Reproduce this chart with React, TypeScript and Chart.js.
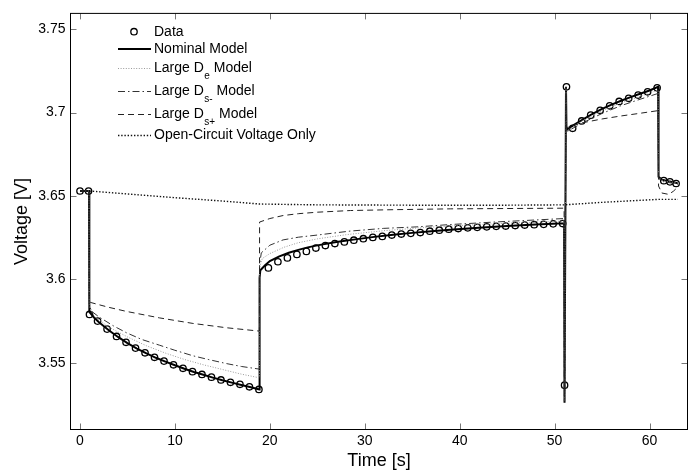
import React, { useEffect, useRef } from "react";
import { Chart, registerables } from "chart.js";

Chart.register(...registerables);

// ---------- axis ticks ----------
const xTicks = [0, 10, 20, 30, 40, 50, 60];
const yTicks = [3.55, 3.6, 3.65, 3.7, 3.75];
const yTickLabels = ["3.55", "3.6", "3.65", "3.7", "3.75"];

// ---------- measured data (circles) ----------
const dataT = [
  0, 0.9, 1.0, 1.85, 2.85, 3.85, 4.85, 5.85, 6.85, 7.85, 8.85, 9.85, 10.85, 11.85, 12.85, 13.85, 14.85,
  15.85, 16.85, 17.85, 18.85, 19.85, 20.85, 21.85, 22.85, 23.85, 24.85, 25.85, 26.85, 27.85, 28.85,
  29.85, 30.85, 31.85, 32.85, 33.85, 34.85, 35.85, 36.85, 37.85, 38.85, 39.85, 40.85, 41.85, 42.85,
  43.85, 44.85, 45.85, 46.85, 47.85, 48.85, 49.85, 50.85, 51.05, 51.25, 51.9, 52.85, 53.8, 54.8, 55.8,
  56.8, 57.8, 58.8, 59.8, 60.8, 61.5, 62.15, 62.8,
];
const dataV = [
  3.653, 3.653, 3.579, 3.575, 3.5702, 3.5658, 3.5623, 3.5588, 3.556, 3.5533, 3.551, 3.5488, 3.5467,
  3.5447, 3.543, 3.5414, 3.5397, 3.5383, 3.5371, 3.5356, 3.534, 3.6069, 3.6106, 3.6129, 3.615, 3.6168,
  3.6188, 3.6203, 3.6215, 3.6225, 3.6235, 3.6244, 3.6252, 3.6258, 3.6266, 3.6272, 3.6276, 3.6281,
  3.6289, 3.6295, 3.6301, 3.6305, 3.6309, 3.6312, 3.6315, 3.6318, 3.632, 3.6323, 3.6326, 3.6328,
  3.633, 3.6333, 3.6335, 3.5366, 3.7155, 3.6906, 3.695, 3.6985, 3.7014, 3.7041, 3.7067, 3.7086,
  3.7105, 3.7125, 3.7149, 3.6592, 3.6585, 3.6575,
];

// ---------- nominal model ----------
const nomT = [
  0, 0.95, 0.97, 1.0, 1.5, 2, 3, 4, 5, 6, 7, 8, 9, 10, 11, 12, 13, 14, 15, 16, 17, 18, 18.9, 18.92, 19.0,
  19.5, 20, 21, 22, 23, 24, 25, 27, 29, 31, 33, 35, 37, 39, 42, 45, 48, 51.0, 51.03, 51.06, 51.2, 51.25,
  52, 53, 54, 55, 56, 57, 58, 59, 60, 60.9, 60.95, 61.3, 62, 63,
];
const nomV = [
  3.653, 3.653, 3.5835, 3.5805, 3.577, 3.5743, 3.5697, 3.5655, 3.5618, 3.5585, 3.5556, 3.553, 3.5507,
  3.5485, 3.5464, 3.5445, 3.5428, 3.5411, 3.5395, 3.5381, 3.5367, 3.5353, 3.534, 3.601, 3.6055, 3.6085,
  3.611, 3.6138, 3.616, 3.6177, 3.6192, 3.6204, 3.6224, 3.624, 3.6255, 3.6268, 3.6279, 3.6289, 3.6298,
  3.631, 3.632, 3.6329, 3.6337, 3.526, 3.526, 3.7155, 3.6895, 3.6925, 3.696, 3.6993, 3.7022, 3.7048,
  3.7071, 3.7093, 3.7113, 3.7133, 3.7155, 3.6615, 3.6598, 3.6588, 3.6577,
];

// ---------- large D_e model ----------
const deT = [
  0, 0.95, 0.97, 1.5, 3, 5, 7, 9, 11, 13, 15, 17, 18.9, 18.92, 19.2, 20, 21.5, 23, 25, 28, 32, 36, 40, 45,
  51, 51.03, 51.06, 51.2, 51.25, 53, 55, 57, 59, 60.9, 60.95, 61.5, 63,
];
const deV = [
  3.653, 3.653, 3.584, 3.578, 3.5715, 3.5655, 3.5602, 3.5558, 3.552, 3.5488, 3.546, 3.5432, 3.541,
  3.607, 3.6125, 3.6155, 3.6193, 3.622, 3.6243, 3.6268, 3.6292, 3.631, 3.6323, 3.6337, 3.635, 3.527,
  3.527, 3.715, 3.689, 3.6955, 3.7012, 3.7058, 3.7098, 3.7135, 3.661, 3.659, 3.6578,
];

// ---------- large D_s- model ----------
const dsmT = [
  0, 0.95, 0.97, 1.2, 2, 3.5, 4.9, 6.5, 8.4, 10, 11.9, 13.5, 15.45, 17, 18.9, 18.92, 19.1, 20, 21.4, 23, 25,
  28.5, 32, 35.5, 39, 44, 51, 51.03, 51.06, 51.2, 51.25, 53, 55, 57, 59, 60.9, 60.95, 61.5, 63,
];
const dsmV = [
  3.653, 3.653, 3.585, 3.581, 3.5775, 3.5722, 3.568, 3.564, 3.5605, 3.5575, 3.5542, 3.552, 3.5495,
  3.5478, 3.5462, 3.609, 3.6159, 3.6205, 3.6237, 3.6253, 3.6266, 3.629, 3.6306, 3.6315, 3.6329, 3.6345,
  3.6365, 3.527, 3.527, 3.714, 3.6885, 3.694, 3.6995, 3.7042, 3.708, 3.7115, 3.6605, 3.6585, 3.6572,
];

// ---------- large D_s+ model ----------
const dspT = [
  0, 0.95, 0.97, 1.1, 3, 4.9, 8.4, 11.9, 15.45, 18.9, 18.92, 20, 21.4, 23, 25, 28.5, 33, 39, 45, 51, 51.03,
  51.06, 51.2, 51.25, 53, 55, 57, 59, 60.9, 60.95, 61.3, 62, 62.5, 63,
];
const dspV = [
  3.653, 3.653, 3.5885, 3.5862, 3.5833, 3.5808, 3.5769, 3.5736, 3.571, 3.569, 3.6344, 3.6365, 3.6383,
  3.6394, 3.6403, 3.6413, 3.6418, 3.6423, 3.6425, 3.6427, 3.53, 3.53, 3.712, 3.691, 3.694, 3.6962,
  3.698, 3.6996, 3.7012, 3.656, 3.6518, 3.651, 3.6528, 3.6555,
];

// ---------- open-circuit voltage only ----------
const ocvT = [0, 1, 5, 10, 15, 18.9, 25, 35, 45, 51, 55, 61, 63];
const ocvV = [3.653, 3.653, 3.6512, 3.649, 3.647, 3.6452, 3.6447, 3.6445, 3.6445, 3.6447, 3.6462, 3.648, 3.648];

// ---------- legend text ----------
const legendLabels: [string, string, string][] = [
  ["Data", "", ""],
  ["Nominal Model", "", ""],
  ["Large D", "e", " Model"],
  ["Large D", "s-", " Model"],
  ["Large D", "s+", " Model"],
  ["Open-Circuit Voltage Only", "", ""],
];

const xTitle = "Time [s]";
const yTitle = "Voltage [V]";

const FONT = '"Liberation Sans", Arial, Helvetica, sans-serif';

const pts = (t: number[], v: number[]) => t.map((x, i) => ({ x, y: v[i] }));

type Sty = { color: string; width: number; dash: number[] };
const styles: Sty[] = [
  { color: "#000", width: 1.3, dash: [] }, // data marker
  { color: "#000", width: 2, dash: [] }, // nominal
  { color: "#9a9a9a", width: 1, dash: [1, 1.6] }, // De
  { color: "#333", width: 1, dash: [7, 3, 1.5, 3] }, // Ds-
  { color: "#222", width: 1, dash: [6, 4] }, // Ds+
  { color: "#111", width: 1.4, dash: [1.4, 1.8] }, // OCV
];

const framePlugin = {
  id: "frame",
  afterDatasetsDraw(chart: any) {
    const { ctx, chartArea, scales } = chart;
    const { left, right, top, bottom } = chartArea;
    ctx.save();
    // ticks (inward, all four sides)
    ctx.strokeStyle = "#777";
    ctx.lineWidth = 1;
    ctx.setLineDash([]);
    const tl = 6;
    xTicks.forEach((v) => {
      const px = Math.round(scales.x.getPixelForValue(v)) + 0.5;
      ctx.beginPath();
      ctx.moveTo(px, bottom);
      ctx.lineTo(px, bottom - tl);
      ctx.moveTo(px, top);
      ctx.lineTo(px, top + tl);
      ctx.stroke();
    });
    yTicks.forEach((v) => {
      const py = Math.round(scales.y.getPixelForValue(v)) + 0.5;
      ctx.beginPath();
      ctx.moveTo(left, py);
      ctx.lineTo(left + tl, py);
      ctx.moveTo(right, py);
      ctx.lineTo(right - tl, py);
      ctx.stroke();
    });
    // box
    ctx.strokeStyle = "#000";
    ctx.lineWidth = 1;
    ctx.strokeRect(left, top, right - left, bottom - top);

    // legend
    const rowsY = [31.7, 49, 68.5, 91.5, 114.5, 135.5];
    const x0 = 118;
    const x1 = 151;
    const tx = 154;
    legendLabels.forEach((lab, i) => {
      const y = rowsY[i];
      const s = styles[i];
      ctx.setLineDash(s.dash);
      ctx.strokeStyle = s.color;
      ctx.lineWidth = s.width;
      if (i === 0) {
        ctx.beginPath();
        ctx.arc(134, y, 3.2, 0, Math.PI * 2);
        ctx.stroke();
      } else {
        ctx.beginPath();
        ctx.moveTo(x0, y);
        ctx.lineTo(x1, y);
        ctx.stroke();
      }
      ctx.setLineDash([]);
      ctx.fillStyle = "#000";
      ctx.textBaseline = "middle";
      ctx.textAlign = "left";
      ctx.font = `14px ${FONT}`;
      let x = tx;
      ctx.fillText(lab[0], x, y);
      x += ctx.measureText(lab[0]).width;
      if (lab[1]) {
        ctx.font = `10px ${FONT}`;
        ctx.fillText(lab[1], x + 0.5, y + 8);
        x += ctx.measureText(lab[1]).width + 0.5;
        ctx.font = `14px ${FONT}`;
        ctx.fillText(lab[2], x, y);
      }
    });
    ctx.restore();
  },
};

export default function App() {
  const ref = useRef<HTMLCanvasElement>(null);
  useEffect(() => {
    document.body.style.margin = "0";
    Chart.defaults.font.family = FONT;
    const lineDs = (t: number[], v: number[], s: Sty, order: number) => ({
      data: pts(t, v),
      showLine: true,
      borderColor: s.color,
      borderWidth: s.width,
      borderDash: s.dash,
      pointRadius: 0,
      pointHoverRadius: 0,
      fill: false,
      tension: 0,
      order,
    });
    const chart = new Chart(ref.current as HTMLCanvasElement, {
      type: "scatter",
      data: {
        datasets: [
          {
            data: pts(dataT, dataV),
            showLine: false,
            pointStyle: "circle",
            pointRadius: 3.2,
            pointBorderWidth: 1.3,
            pointBorderColor: "#000",
            pointBackgroundColor: "rgba(0,0,0,0)",
            borderColor: "#000",
            backgroundColor: "rgba(0,0,0,0)",
            order: 6,
          } as any,
          lineDs(nomT, nomV, styles[1], 5),
          lineDs(deT, deV, styles[2], 4),
          lineDs(dsmT, dsmV, styles[3], 3),
          lineDs(dspT, dspV, styles[4], 2),
          lineDs(ocvT, ocvV, styles[5], 1),
        ],
      },
      options: {
        responsive: false,
        animation: false,
        devicePixelRatio: 1,
        layout: { padding: { left: 0, top: 3.5, right: 8.5, bottom: 0 } },
        plugins: { legend: { display: false }, tooltip: { enabled: false } },
        events: [],
        scales: {
          x: {
            type: "linear",
            min: -1,
            max: 64,
            grid: { display: false, drawTicks: false },
            border: { display: false },
            afterBuildTicks: (axis: any) => {
              axis.ticks = xTicks.map((v) => ({ value: v }));
            },
            afterFit: (s: any) => {
              s.height = 43.5;
            },
            ticks: {
              padding: 3,
              color: "#000",
              font: { size: 14, family: FONT },
              maxRotation: 0,
              autoSkip: false,
              callback: (v: any) => String(v),
            },
            title: {
              display: true,
              text: xTitle,
              color: "#000",
              font: { size: 18, family: FONT },
              padding: { top: 0, bottom: 1.2 },
            },
          },
          y: {
            type: "linear",
            min: 3.51,
            max: 3.7595,
            grid: { display: false, drawTicks: false },
            border: { display: false },
            afterBuildTicks: (axis: any) => {
              axis.ticks = yTicks.map((v) => ({ value: v }));
            },
            afterFit: (s: any) => {
              s.width = 70.5;
            },
            ticks: {
              padding: 5,
              color: "#000",
              font: { size: 14, family: FONT },
              autoSkip: false,
              callback: (_v: any, i: number) => yTickLabels[i],
            },
            title: {
              display: true,
              text: yTitle,
              color: "#000",
              font: { size: 18, family: FONT },
              padding: { top: 11.2, bottom: 0 },
            },
          },
        },
      } as any,
      plugins: [framePlugin],
    });
    return () => chart.destroy();
  }, []);
  return (
    <div style={{ width: 696, height: 473 }}>
      <canvas ref={ref} width={696} height={473} style={{ display: "block", width: 696, height: 473 }} />
    </div>
  );
}
